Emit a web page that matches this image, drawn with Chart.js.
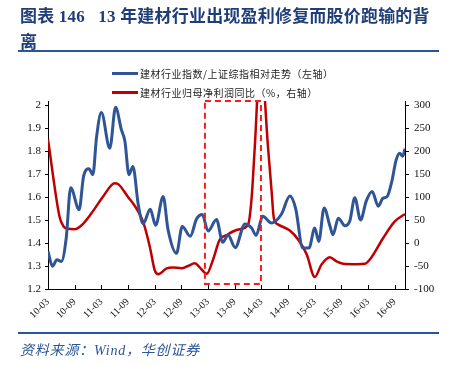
<!DOCTYPE html>
<html>
<head>
<meta charset="utf-8">
<script src="https://cdn.jsdelivr.net/npm/chart.js@4.4.1/dist/chart.umd.min.js"></script>
<style>
  body { margin: 0; background: #fff; }
  #wrap { position: relative; width: 452px; height: 365px; overflow: hidden; }
  #chart { position: absolute; left: 0; top: 0; }
  .title { position: absolute; left: 20px; top: 4px; width: 425px; font: bold 17px 'Liberation Serif', 'Noto Sans CJK SC'; color: #1f3e78; line-height: 26px; letter-spacing: 0.2px; }
  .rule { position: absolute; left: 18px; width: 421px; height: 2px; background: #2a5597; }
  .source { position: absolute; left: 20px; top: 339px; font: italic 14px 'Liberation Serif', 'Noto Sans CJK SC'; color: #2a5597; letter-spacing: 0.8px; }
  .leg { position: absolute; left: 112px; font: 10px 'Noto Sans CJK SC'; color: #222; letter-spacing: 0.5px; white-space: nowrap; }
  .leg span { position: absolute; left: 0; width: 26px; height: 3px; }
  .leg b { position: absolute; left: 28px; font-weight: normal; }
</style>
</head>
<body>
<div id="wrap">
  <canvas id="chart" width="452" height="365"></canvas>
  <div class="title">图表 146&nbsp;&nbsp;&nbsp;13 年建材行业出现盈利修复而股价跑输的背<br>离</div>
  <div class="rule" style="top:50px"></div>
  <div id="legend"></div>
  <div class="rule" style="top:332px"></div>
  <div class="source">资料来源：Wind，华创证券</div>
</div>
<script>
// months counted from 2010-03
var tickLabels = ['10-03', '10-09', '11-03', '11-09', '12-03', '12-09', '13-03',
	'13-09', '14-03', '14-09', '15-03', '15-09', '16-03', '16-09'];

// 建材行业指数/上证综指
var blueMonths = [0, 1, 2, 3, 4.1, 5.1, 7, 8, 9.2, 10.1, 10.9, 12, 13.9, 15.2, 16.5, 17.3, 18.2, 19.1,
	20.3, 21.4, 23, 24.2, 25.9, 27, 28.9, 30.2, 32, 33.4, 34.7, 36, 37.9, 39.3, 40.5, 42.1, 44.3,
	45.8, 46.8, 48.3, 50.3, 52.5, 54.4, 55.7, 57.3, 58.7, 60, 60.9, 62.1, 63.4, 64.1, 65.3, 66.8,
	67.9, 69, 70.3, 71.6, 72.9, 74.3, 75.3, 76.3, 77.3, 78.3, 79.1, 79.8, 80.3];
var blueValues = [1.364, 1.299, 1.327, 1.32, 1.422, 1.64, 1.545, 1.69, 1.723, 1.697, 1.857, 1.967, 1.812,
	1.99, 1.893, 1.842, 1.697, 1.733, 1.567, 1.484, 1.547, 1.477, 1.602, 1.458, 1.355, 1.472, 1.429,
	1.504, 1.524, 1.452, 1.502, 1.403, 1.435, 1.38, 1.483, 1.465, 1.433, 1.516, 1.487, 1.525, 1.604,
	1.55, 1.378, 1.378, 1.465, 1.407, 1.552, 1.475, 1.436, 1.508, 1.475, 1.497, 1.597, 1.5, 1.583,
	1.624, 1.56, 1.594, 1.602, 1.665, 1.76, 1.79, 1.777, 1.81];

// 归母净利润同比 (%)
var redMonths = [0, 2.6, 3.5, 4.5, 6, 7.5, 9.8, 12.4, 15, 15.8, 18, 19.9, 21.4, 22.9, 24, 24.8, 26.7,
	28.1, 30, 31.5, 33, 34.5, 35.7, 37.1, 38.6, 40.2, 41.6, 43.1, 45, 45.8, 46.5, 47.8, 49.5, 50.3,
	50.8, 51.8, 54.4, 56.3, 58.2, 60, 61.5, 63.4, 64.9, 66.4, 69.4, 71.3, 72.4, 75.4, 78, 80.3];
var redValues = [225, 57, 36, 31, 30, 38, 65, 101, 130, 128, 100, 75, 46, -8, -59, -68, -55,
	-53, -55, -50, -44, -57, -67, -37, 7, 17, 25, 30, 40, 98, 207, 410, 207, 112,
	54, 40, 27, 7, -25, -74, -47, -31, -40, -45, -46, -45, -36, 11, 47, 63];

// dashed box: 13-02 .. 14-03 on the left axis
var boxMonths = [35.3, 47.9];
var boxLevels = [1.222, 2.017];

function toPoints(xs, ys) {
	return xs.map(function (x, i) { return { x: x, y: ys[i] }; });
}

/* inner tick marks on the x axis + dashed box */
var extras = {
	id: 'extras',
	afterDraw: function (chart) {
		var ctx = chart.ctx, x = chart.scales.x, y = chart.scales.y;
		var bottom = chart.chartArea.bottom;
		ctx.save();
		ctx.strokeStyle = '#000';
		ctx.lineWidth = 1;
		x.ticks.forEach(function (t) {
			var px = Math.round(x.getPixelForValue(t.value)) + 0.5;
			ctx.beginPath();
			ctx.moveTo(px, bottom);
			ctx.lineTo(px, bottom - 4);
			ctx.stroke();
		});
		var x0 = x.getPixelForValue(boxMonths[0]), x1 = x.getPixelForValue(boxMonths[1]);
		var y0 = y.getPixelForValue(boxLevels[1]), y1 = y.getPixelForValue(boxLevels[0]);
		ctx.strokeStyle = '#ff1a1a';
		ctx.lineWidth = 2;
		ctx.setLineDash([6, 4]);
		ctx.strokeRect(x0, y0, x1 - x0, y1 - y0);
		ctx.restore();
	}
};

Chart.defaults.font.family = "'Liberation Serif', 'Times New Roman', serif";
Chart.defaults.color = '#111';

var ctx = document.getElementById('chart').getContext('2d');
var myChart = new Chart(ctx, {
	type: 'line',
	data: {
		datasets: [{
			label: '建材行业指数/上证综指相对走势（左轴）',
			data: toPoints(blueMonths, blueValues),
			yAxisID: 'y',
			borderColor: '#2f5597',
			borderWidth: 3,
			pointRadius: 0,
			cubicInterpolationMode: 'monotone'
		}, {
			label: '建材行业归母净利润同比（%，右轴）',
			data: toPoints(redMonths, redValues),
			yAxisID: 'y1',
			borderColor: '#c00000',
			borderWidth: 2.5,
			pointRadius: 0,
			cubicInterpolationMode: 'monotone'
		}]
	},
	options: {
		responsive: false,
		animation: false,
		events: [],
		layout: { padding: { top: 101, left: 0, right: 0, bottom: 0 } },
		scales: {
			x: {
				type: 'linear',
				min: 0,
				max: 80.3,
				afterFit: function (s) { s.height = 76; },
				grid: { display: false, drawTicks: false },
				border: { display: true, color: '#000', width: 1 },
				ticks: {
					stepSize: 6,
					includeBounds: false,
					autoSkip: false,
					minRotation: 45,
					maxRotation: 45,
					padding: 7,
					font: { size: 10 },
					callback: function (v) { return tickLabels[Math.round(v / 6)]; }
				}
			},
			y: {
				position: 'left',
				min: 1.2,
				max: 2.0174,
				afterFit: function (s) { s.width = 48; },
				grid: { drawOnChartArea: false, color: '#000', tickLength: 3 },
				border: { display: true, color: '#000', width: 1 },
				ticks: {
					stepSize: 0.1,
					includeBounds: false,
					padding: 4,
					font: { size: 11 },
					callback: function (v) { return Math.round(v * 10) / 10; }
				}
			},
			y1: {
				position: 'right',
				min: -100,
				max: 308.7,
				afterFit: function (s) { s.width = 47; },
				grid: { drawOnChartArea: false, color: '#000', tickLength: 4 },
				border: { display: true, color: '#000', width: 1 },
				ticks: {
					stepSize: 50,
					includeBounds: false,
					padding: 5,
					font: { size: 11 }
				}
			}
		},
		plugins: {
			legend: { display: false },
			tooltip: { enabled: false }
		}
	},
	plugins: [extras]
});

/* legend, two rows on the left */
var rows = [73, 92];
var box = document.getElementById('legend');
myChart.data.datasets.forEach(function (ds, i) {
	var d = document.createElement('div');
	d.className = 'leg';
	d.style.top = (rows[i] - 7) + 'px';
	d.innerHTML = '<span style="top:6px;background:' + ds.borderColor + '"></span><b>' + ds.label + '</b>';
	box.appendChild(d);
});
</script>
</body>
</html>
